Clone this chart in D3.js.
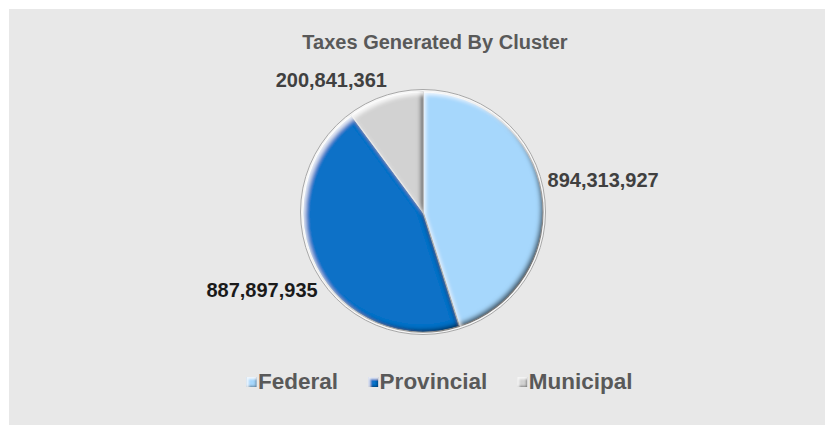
<!DOCTYPE html>
<html>
<head>
<meta charset="utf-8">
<script src="https://cdn.jsdelivr.net/npm/d3@7"></script>
<style>
  html, body { margin: 0; padding: 0; background: #ffffff; }
  svg { display: block; }
  text { font-family: "Liberation Sans", Arial, sans-serif; font-weight: bold; }
</style>
</head>
<body>
<svg id="chart" width="825" height="425"></svg>
<script>
// Tax revenue by cluster
const categories = ["Federal", "Provincial", "Municipal"];
const values = [894313927, 887897935, 200841361];
const sliceColors = ["#a6d7fc", "#0a71c7", "#d2d2d2"];
const labelColors = ["#404040", "#1a1a1a", "#404040"];
const chartTitle = "Taxes Generated By Cluster";

const W = 825, H = 425;
const svg = d3.select("#chart");

// Panel background
svg.append("rect").attr("x", 9).attr("y", 9).attr("width", W - 9).attr("height", H - 9)
  .attr("fill", "#e8e8e8");

// Bevel filter: dark inner edge on lower-right, light inner edge on upper-left
const defs = svg.append("defs");
function bevel(id, sd, off, darkOp, lightOp) {
  const f = defs.append("filter").attr("id", id)
    .attr("x", "-20%").attr("y", "-20%").attr("width", "140%").attr("height", "140%");
  f.append("feGaussianBlur").attr("in", "SourceAlpha").attr("stdDeviation", sd).attr("result", "blur");
  f.append("feOffset").attr("in", "blur").attr("dx", -off).attr("dy", -off).attr("result", "offD");
  f.append("feComposite").attr("in", "SourceAlpha").attr("in2", "offD").attr("operator", "out").attr("result", "maskD");
  f.append("feFlood").attr("flood-color", "#000").attr("flood-opacity", darkOp).attr("result", "fd");
  f.append("feComposite").attr("in", "fd").attr("in2", "maskD").attr("operator", "in").attr("result", "dark");
  f.append("feOffset").attr("in", "blur").attr("dx", off).attr("dy", off).attr("result", "offL");
  f.append("feComposite").attr("in", "SourceAlpha").attr("in2", "offL").attr("operator", "out").attr("result", "maskL");
  f.append("feFlood").attr("flood-color", "#fff").attr("flood-opacity", lightOp).attr("result", "fl");
  f.append("feComposite").attr("in", "fl").attr("in2", "maskL").attr("operator", "in").attr("result", "light");
  const m = f.append("feMerge");
  m.append("feMergeNode").attr("in", "SourceGraphic");
  m.append("feMergeNode").attr("in", "dark");
  m.append("feMergeNode").attr("in", "light");
}
bevel("bevel", 2.2, 3, 0.85, 0.85);
bevel("bevelSmall", 1, 1.5, 0.7, 0.8);

// Title
svg.append("text")
  .attr("x", 435).attr("y", 49)
  .attr("text-anchor", "middle")
  .attr("font-size", 20)
  .attr("fill", "#595959")
  .text(chartTitle);

// Pie
const cx = 423, cy = 212, R = 120;
const pie = d3.pie().sort(null).value(d => d.value);
const data = categories.map((c, i) => ({ name: c, value: values[i], color: sliceColors[i], labelColor: labelColors[i] }));
const arcs = pie(data);
const arc = d3.arc().innerRadius(0).outerRadius(R);

const g = svg.append("g").attr("transform", `translate(${cx},${cy})`);

// Soft rim around the pie
g.append("circle").attr("r", R + 2.5).attr("fill", "#f6f6f6").attr("stroke", "#a8a8a8").attr("stroke-width", 1);

g.selectAll("path.slice")
  .data(arcs)
  .join("path")
  .attr("class", "slice")
  .attr("d", arc)
  .attr("fill", d => d.data.color)
  .attr("stroke", "#f2f2f2")
  .attr("stroke-width", 1.2)
  .attr("filter", "url(#bevel)");

// Value labels placed just outside each slice
const fmt = d3.format(",");
const labelArc = d3.arc().innerRadius(R + 5).outerRadius(R + 5);
const nudge = [[1, -6], [6, 28], [3, -6]];
svg.selectAll("text.value")
  .data(arcs)
  .join("text")
  .attr("class", "value")
  .attr("font-size", 20)
  .attr("fill", d => d.data.labelColor)
  .attr("text-anchor", d => (d.startAngle + d.endAngle) / 2 < Math.PI ? "start" : "end")
  .attr("x", (d, i) => cx + labelArc.centroid(d)[0] + nudge[i][0])
  .attr("y", (d, i) => cy + labelArc.centroid(d)[1] + nudge[i][1])
  .text(d => fmt(d.data.value));

// Legend
const legend = svg.append("g");
const items = legend.selectAll("g.item").data(data).join("g").attr("class", "item");
items.append("rect")
  .attr("x", 0.5)
  .attr("width", 10).attr("height", 10)
  .attr("y", -12)
  .attr("fill", d => d.color)
  .attr("filter", "url(#bevelSmall)");
items.append("text")
  .attr("x", 12)
  .attr("y", 0)
  .attr("font-size", 22.5)
  .attr("fill", "#595959")
  .text(d => d.name);

let xPos = 0;
const gap = 30;
items.each(function () {
  const w = this.getBBox().width;
  d3.select(this).attr("transform", `translate(${xPos},389)`);
  xPos += w + gap;
});
const total = xPos - gap;
legend.attr("transform", `translate(${439 - total / 2},0)`);
</script>
</body>
</html>
